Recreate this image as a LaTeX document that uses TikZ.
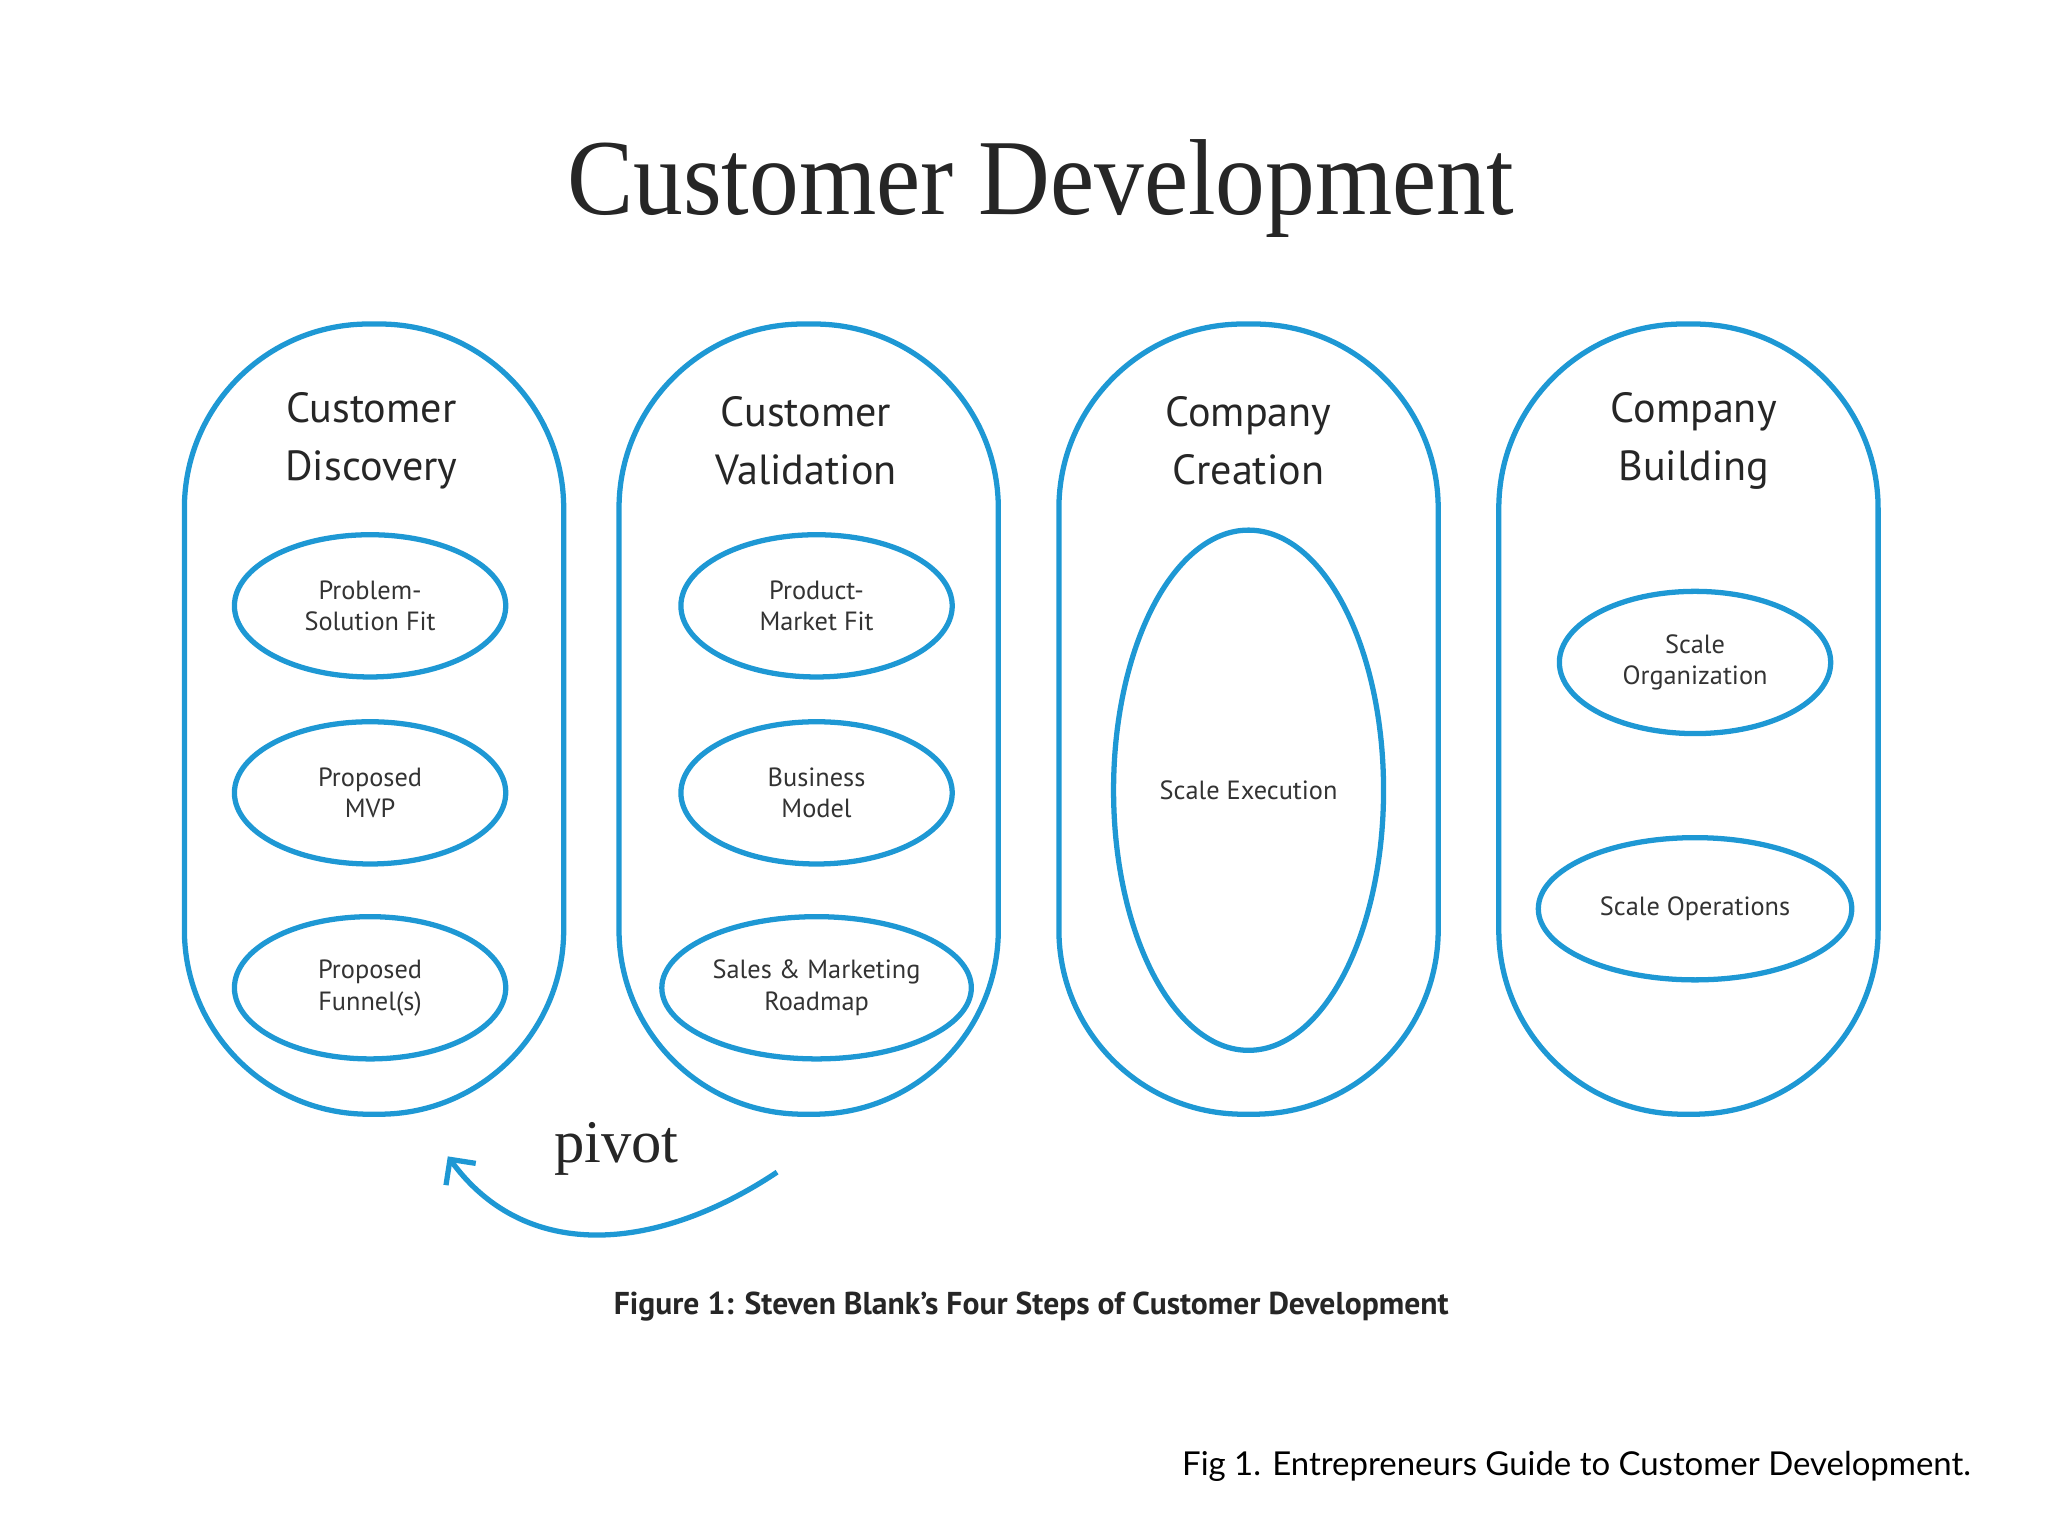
\documentclass[tikz,border=0pt]{standalone}
\usepackage{fontspec}
\setmainfont{Liberation Serif}
\newfontfamily\lab{PT Sans}
\newfontfamily\gill{Lato}
\usetikzlibrary{arrows.meta,shapes.geometric}
\definecolor{cdblue}{RGB}{30,152,212}
\tikzset{
  capsule/.style={draw=cdblue,line width=4pt,rounded corners=140pt,minimum width=288pt,minimum height=600pt},
  oval/.style={draw=cdblue,line width=4pt,ellipse,inner sep=0pt,minimum width=206pt,minimum height=108pt,font=\lab\fontsize{20}{24}\selectfont,align=center,text=black!80},
  head/.style={font=\lab\fontsize{32}{44}\selectfont,align=center,text=black!85},
}
\begin{document}
\begin{tikzpicture}[x=1pt,y=-1pt]
\useasboundingbox (0,0) rectangle (1555,1166);
\node[font=\fontsize{82}{90}\selectfont,text=black!85,xscale=0.92] (title) at (790,143) {Customer Development};
\foreach \n/\x in {c1/284,c2/614,c3/948,c4/1282}{
  \node[capsule] (\n) at (\x,546) {};
}
\node[head] (h1) at (282,335) {Customer\\Discovery};
\node[head] (h2) at (612,335) {Customer\\Validation};
\node[head] (h3) at (948,335) {Company\\Creation};
\node[head] (h4) at (1286,335) {Company\\Building};
\node[oval] (o11) at (281,460) {Problem-\\Solution Fit};
\node[oval] (o12) at (281,602) {Proposed\\MVP};
\node[oval] (o13) at (281,750) {Proposed\\Funnel(s)};
\node[oval] (o21) at (620,460) {Product-\\Market Fit};
\node[oval] (o22) at (620,602) {Business\\Model};
\node[oval,minimum width=235pt] (o23) at (620,750) {Sales \& Marketing\\Roadmap};
\node[oval,minimum width=205pt,minimum height=395pt] (o31) at (948,600) {Scale Execution};
\node[oval] (o41) at (1287,503) {Scale\\Organization};
\node[oval,minimum width=238pt] (o42) at (1287,690) {Scale Operations};
\node[font=\fontsize{46}{50}\selectfont,text=black!85] (pv) at (468,872) {pivot};
\coordinate (ps) at (590,890);
\coordinate (pe) at (340,878);
\draw[cdblue,line width=4pt,-{Straight Barb[length=14pt,width=28pt]}] (ps) .. controls (500,950) and (400,960) .. (pe);
\node[font=\lab\bfseries\fontsize{24}{28}\selectfont,text=black!85] (cap) at (783,992) {Figure 1: Steven Blank’s Four Steps of Customer Development};
\node[font=\gill\fontsize{25}{30}\selectfont,anchor=east] (src) at (1500,1113) {Fig 1. Entrepreneurs Guide to Customer Development.};
\end{tikzpicture}
\end{document}
